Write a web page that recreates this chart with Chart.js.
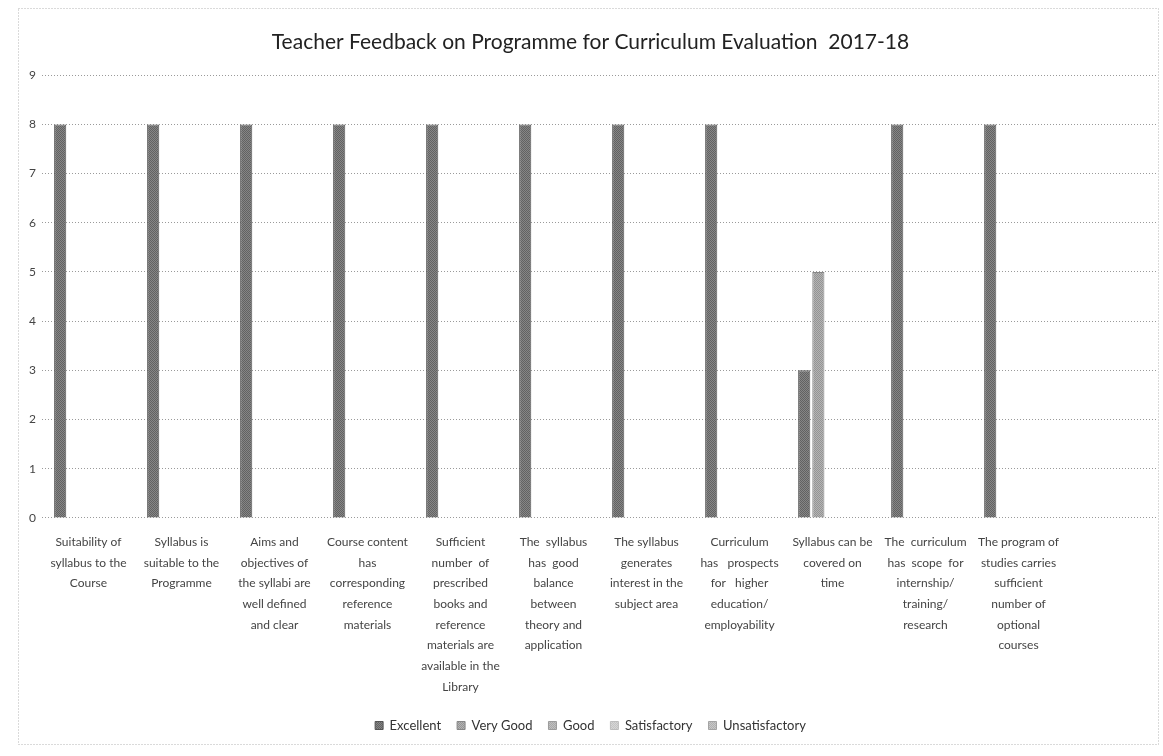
<!DOCTYPE html>
<html>
<head>
<meta charset="utf-8">
<title>Teacher Feedback on Programme for Curriculum Evaluation 2017-18</title>
<script src="https://cdn.jsdelivr.net/npm/chart.js@4.4.1/dist/chart.umd.min.js"></script>
<style>
  html, body { margin: 0; padding: 0; background: #ffffff; }
  #wrap { width: 1163px; height: 756px; }
</style>
</head>
<body>
<div id="wrap"><canvas id="feedbackChart" width="1163" height="756"></canvas></div>
<script>
// categories (wrapped the way the printed chart wraps them); the last one is the empty slot at the right
const categories = [
    ['Suitability of', 'syllabus to the', 'Course'],
    ['Syllabus is', 'suitable to the', 'Programme'],
    ['Aims and', 'objectives of', 'the syllabi are', 'well defined', 'and clear'],
    ['Course content', 'has', 'corresponding', 'reference', 'materials'],
    ['Sufficient', 'number  of', 'prescribed', 'books and', 'reference', 'materials are', 'available in the', 'Library'],
    ['The  syllabus', 'has  good', 'balance', 'between', 'theory and', 'application'],
    ['The syllabus', 'generates', 'interest in the', 'subject area'],
    ['Curriculum', 'has   prospects', 'for   higher', 'education/', 'employability'],
    ['Syllabus can be', 'covered on', 'time'],
    ['The  curriculum', 'has  scope  for', 'internship/', 'training/', 'research'],
    ['The program of', 'studies carries', 'sufficient', 'number of', 'optional', 'courses'],
    ''
];

const seriesNames = ['Excellent', 'Very Good', 'Good', 'Satisfactory', 'Unsatisfactory'];

const excellent      = [8, 8, 8, 8, 8, 8, 8, 8, 3, 8, 8, null];
const veryGood       = [0, 0, 0, 0, 0, 0, 0, 0, 5, 0, 0, null];
const good           = [0, 0, 0, 0, 0, 0, 0, 0, 0, 0, 0, null];
const satisfactory   = [0, 0, 0, 0, 0, 0, 0, 0, 0, 0, 0, null];
const unsatisfactory = [0, 0, 0, 0, 0, 0, 0, 0, 0, 0, 0, null];

const yTicks = [0, 1, 2, 3, 4, 5, 6, 7, 8, 9];

// small checker texture so the bars look like the printed halftone
function halftone(c1, c2) {
    const p = document.createElement('canvas');
    p.width = 2; p.height = 2;
    const g = p.getContext('2d');
    g.fillStyle = c1; g.fillRect(0, 0, 2, 2);
    g.fillStyle = c2; g.fillRect(0, 0, 1, 1); g.fillRect(1, 1, 1, 1);
    return g.createPattern(p, 'repeat');
}

// dotted frame round the whole chart
const frame = {
    id: 'frame',
    beforeDraw(chart) {
        const c = chart.ctx;
        c.save();
        c.strokeStyle = '#b5b5b5';
        c.lineWidth = 1;
        c.setLineDash([1, 2]);
        c.strokeRect(18.5, 8.5, 1140, 736);
        c.restore();
    }
};

const ctx = document.getElementById('feedbackChart').getContext('2d');
const makeSet = (label, data, fill, edge) => ({
    label: label,
    data: data,
    backgroundColor: fill,
    borderColor: edge,
    borderWidth: 1,
    categoryPercentage: 0.76,
    barPercentage: 0.86
});

const feedbackChart = new Chart(ctx, {
    type: 'bar',
    data: {
        labels: categories,
        datasets: [
            makeSet(seriesNames[0], excellent, halftone('#868686', '#626262'), '#555555'),
            makeSet(seriesNames[1], veryGood, halftone('#b4b4b4', '#949494'), '#888888'),
            makeSet(seriesNames[2], good, halftone('#c0c0c0', '#a8a8a8'), '#9c9c9c'),
            makeSet(seriesNames[3], satisfactory, halftone('#d6d6d6', '#c4c4c4'), '#bcbcbc'),
            makeSet(seriesNames[4], unsatisfactory, halftone('#c8c8c8', '#b0b0b0'), '#a4a4a4')
        ]
    },
    options: {
        responsive: false,
        animation: false,
        layout: {
            padding: { top: 8, left: 23, right: 5, bottom: 14 }
        },
        plugins: {
            title: {
                display: true,
                text: 'Teacher Feedback on Programme for Curriculum Evaluation  2017-18',
                color: '#222222',
                font: { family: 'Lato', size: 21, weight: 'normal' },
                padding: { top: 22, bottom: 20 }
            },
            legend: {
                position: 'bottom',
                labels: {
                    color: '#333333',
                    font: { family: 'Lato', size: 13 },
                    boxWidth: 8,
                    boxHeight: 8,
                    padding: 16
                }
            },
            tooltip: { enabled: false }
        },
        scales: {
            x: {
                grid: { display: false },
                border: { display: false },
                ticks: {
                    color: '#444444',
                    font: { family: 'Lato', size: 12, lineHeight: 1.72 },
                    maxRotation: 0,
                    minRotation: 0,
                    autoSkip: false,
                    padding: 6
                }
            },
            y: {
                min: 0,
                max: 9,
                afterBuildTicks(axis) { axis.ticks = yTicks.map(v => ({ value: v })); },
                grid: {
                    color: '#9a9a9a',
                    lineWidth: 1,
                    drawTicks: false
                },
                border: { display: false, dash: [1, 2] },
                ticks: {
                    color: '#444444',
                    font: { family: 'Lato', size: 12 },
                    padding: 6
                }
            }
        }
    },
    plugins: [frame]
});
</script>
</body>
</html>
